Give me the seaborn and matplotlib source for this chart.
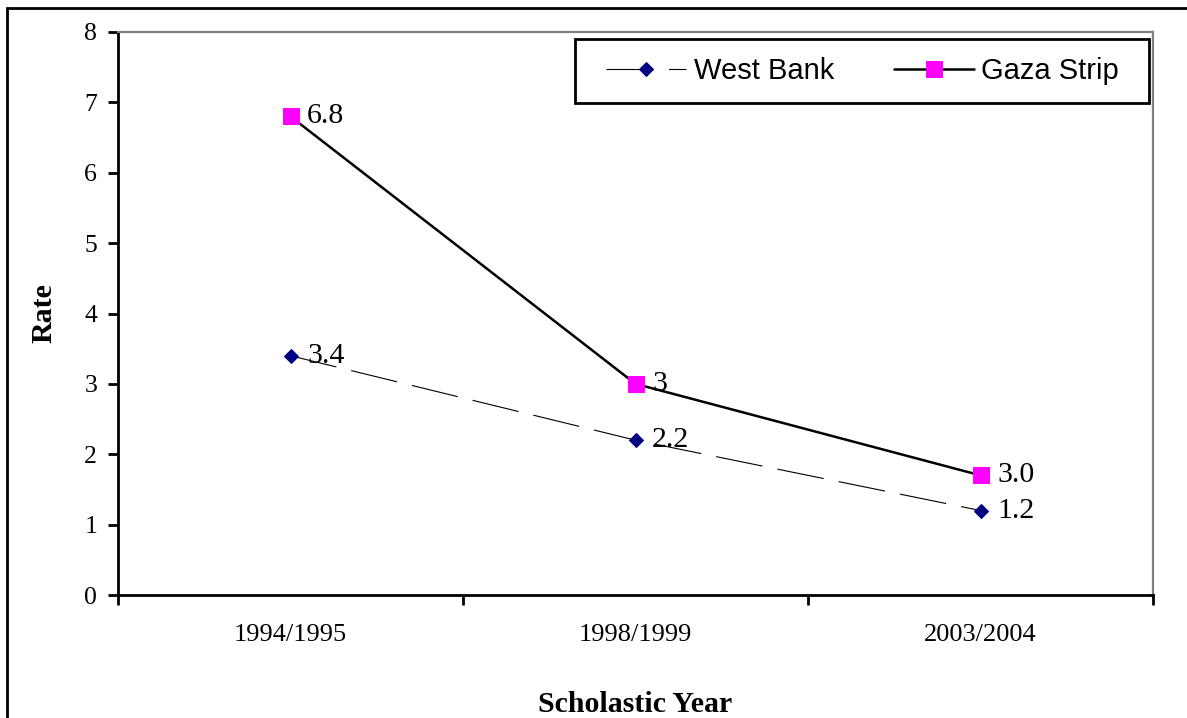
import numpy as np
import pandas as pd
import seaborn as sns
import matplotlib.pyplot as plt
from matplotlib.patches import Rectangle

years = ['1994/1995', '1998/1999', '2003/2004']
west_bank = [3.4, 2.2, 1.2]
gaza_strip = [6.8, 3.0, 1.7]
west_bank_labels = ['3.4', '2.2', '1.2']
gaza_labels = ['6.8', '3', '3.0']

sns.set_style('white')
plt.rcParams['font.family'] = ['Liberation Serif', 'DejaVu Serif']
plt.rcParams['lines.scale_dashes'] = False
for k in ['text.color', 'axes.labelcolor', 'xtick.color', 'ytick.color']:
    plt.rcParams[k] = 'black'

pos = np.arange(len(years))
df = pd.DataFrame({'pos': np.concatenate([pos, pos]),
                   'Rate': west_bank + gaza_strip,
                   'Region': ['West Bank'] * 3 + ['Gaza Strip'] * 3})

fig = plt.figure(figsize=(11.87, 7.18), dpi=100)
ax = fig.add_axes([118 / 1187, 1 - 595 / 718, (1153 - 118) / 1187, (595 - 32) / 718])

sns.lineplot(data=df[df.Region == 'West Bank'], x='pos', y='Rate', ax=ax,
             color='black', lw=0.8, marker='D', markersize=7,
             markerfacecolor='#000080', markeredgecolor='#000080',
             dashes=False, label='West Bank')
ax.lines[-1].set_dashes((34, 11))
sns.lineplot(data=df[df.Region == 'Gaza Strip'], x='pos', y='Rate', ax=ax,
             color='black', lw=1.8, marker='s', markersize=11,
             markerfacecolor='#FF00FF', markeredgecolor='#FF00FF',
             label='Gaza Strip')

for x, y, t in zip(pos, west_bank, west_bank_labels):
    ax.annotate(t, (x, y), xytext=(12, 0), textcoords='offset points',
                ha='left', va='center', fontsize=21.5)
for x, y, t in zip(pos, gaza_strip, gaza_labels):
    ax.annotate(t, (x, y), xytext=(12, 0), textcoords='offset points',
                ha='left', va='center', fontsize=21.5)

ax.set_xlim(-0.5, 2.5)
ax.set_ylim(0, 8)
ax.set_yticks(range(0, 9))
ax.set_xticks(pos)
ax.set_xticklabels(years)
ax.set_xticks([-0.5, 0.5, 1.5, 2.5], minor=True)
ax.tick_params(axis='x', which='major', length=0, pad=21, labelsize=19)
ax.tick_params(axis='x', which='minor', length=7, width=2.0, direction='out', color='black')
ax.tick_params(axis='y', length=7, width=2.0, direction='out', color='black', pad=8, labelsize=18.5)
ax.yaxis.set_ticks_position('left')
ax.xaxis.set_ticks_position('bottom')

for s in ['left', 'bottom']:
    ax.spines[s].set_color('black')
    ax.spines[s].set_linewidth(2.0)
for s in ['top', 'right']:
    ax.spines[s].set_color('#808080')
    ax.spines[s].set_linewidth(1.6)

ax.set_xlabel('Scholastic Year', fontsize=21.5, fontweight='bold', labelpad=32)
ax.set_ylabel('Rate', fontsize=21.5, fontweight='bold', labelpad=19)

# legend entries without frame, box drawn separately
leg = ax.legend(loc='center left', bbox_to_anchor=((606 - 118) / 1035, (595 - 71) / 563),
                ncol=2, frameon=False,
                prop={'family': 'Liberation Sans', 'size': 21},
                handlelength=2.75, handletextpad=0.25, columnspacing=2.05,
                borderpad=0, borderaxespad=0)
ax.add_patch(Rectangle(((575 - 118) / 1035, (595 - 103) / 563), 574 / 1035, 64 / 563,
                       transform=ax.transAxes, fill=False, edgecolor='black',
                       lw=2.0, zorder=5))

fig.patches.append(Rectangle((7 / 1187, -0.1), 1.2, 1.1 - 8 / 718,
                             transform=fig.transFigure, fill=False,
                             edgecolor='black', lw=2.0))

fig.savefig('out.png', dpi=100)
